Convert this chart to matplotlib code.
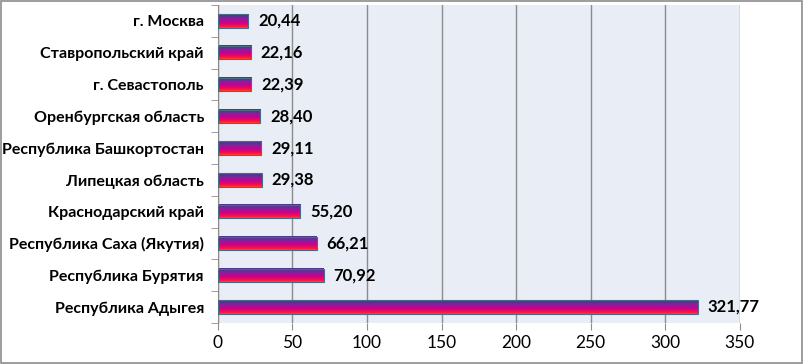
import numpy as np
import matplotlib.pyplot as plt
from matplotlib.colors import LinearSegmentedColormap
from matplotlib.patches import Rectangle

regions = ['Республика Адыгея', 'Республика Бурятия', 'Республика Саха (Якутия)',
           'Краснодарский край', 'Липецкая область', 'Республика Башкортостан',
           'Оренбургская область', 'г. Севастополь', 'Ставропольский край', 'г. Москва']
values = [321.77, 70.92, 66.21, 55.20, 29.38, 29.11, 28.40, 22.39, 22.16, 20.44]
xticks = [0, 50, 100, 150, 200, 250, 300, 350]

plt.rcParams['font.family'] = ['Lato', 'DejaVu Sans']

fig = plt.figure(figsize=(8.04, 3.64), dpi=100)
fig.patches.append(Rectangle((0.001, 0.002), 0.997, 0.995, transform=fig.transFigure,
                             fill=False, edgecolor='#8c8c8c', lw=1.2))
ax = fig.add_axes([0.271, 0.113, 0.649, 0.873])
ax.set_facecolor('#e9edf5')

# vertical gradient: red at bottom, magenta, dark blue-purple at top
cmap = LinearSegmentedColormap.from_list('grad', [
    (0.0, '#ff4a10'), (0.12, '#ff1040'), (0.4, '#cc008c'),
    (0.7, '#85209a'), (1.0, '#3c3f8c')])
grad = np.linspace(0, 1, 64).reshape(-1, 1)

h = 0.42
y = np.arange(len(regions))
bars = ax.barh(y, values, height=h, facecolor='none', edgecolor='#4a6a8a', lw=0.8, zorder=3)
for b in bars:
    x0, y0 = b.get_x(), b.get_y()
    ax.imshow(grad, cmap=cmap, origin='lower', aspect='auto', zorder=2,
              extent=[x0, x0 + b.get_width(), y0, y0 + b.get_height()])

for yi, v in zip(y, values):
    ax.text(v + 6.5, yi, f'{v:.2f}'.replace('.', ','), va='center', ha='left',
            fontsize=12, fontweight='bold', zorder=4)

ax.set_xlim(0, 350)
ax.set_ylim(-0.5, len(regions) - 0.5)
ax.set_xticks(xticks)
ax.set_xticklabels([str(t) for t in xticks], fontsize=12.5)
ax.set_yticks(y)
ax.set_yticklabels(regions, fontsize=11.5, fontweight='bold')
ax.set_yticks(np.arange(len(regions) + 1) - 0.5, minor=True)
ax.tick_params(axis='y', which='major', length=0, pad=10)
ax.tick_params(axis='y', which='minor', length=5, color='#8c8c8c')
ax.tick_params(axis='x', length=5, color='#8c8c8c', pad=4)
ax.grid(axis='x', color='#8c8c8c', lw=1, zorder=1)
ax.set_axisbelow(True)
for s in ax.spines.values():
    s.set_color('#8c8c8c')
ax.spines['top'].set_visible(False)
ax.spines['right'].set_visible(False)
ax.spines['bottom'].set_visible(False)

fig.savefig('out.png', dpi=100)
